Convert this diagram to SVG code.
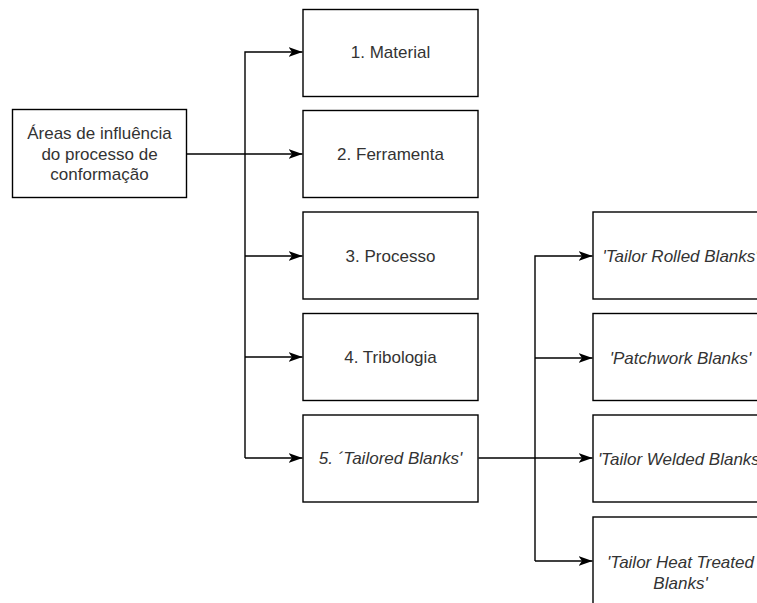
<svg xmlns="http://www.w3.org/2000/svg" width="757" height="603" viewBox="0 0 757 603">
<style>
.box{fill:#fff;stroke:#000;stroke-width:1.4}
.t{font-family:"Liberation Sans",Arial,sans-serif;font-size:17px;fill:#333;text-anchor:middle}
.i{font-style:italic}
.c{fill:none;stroke:#000;stroke-width:1.4}
</style>
<defs>
<marker id="arr" markerUnits="userSpaceOnUse" viewBox="0 0 14 10" refX="14" refY="5" markerWidth="14" markerHeight="10" orient="auto">
<path d="M0,0 L14,5 L0,10 L3.5,5 Z" fill="#000"/>
</marker>
</defs>
<rect width="757" height="603" fill="#fff"/>
<g id="connectors">
<path class="c" d="M186.5,154 H302.5" marker-end="url(#arr)"/>
<path class="c" d="M245,458 V52 H302.5" marker-end="url(#arr)"/>
<path class="c" d="M245,256 H302.5" marker-end="url(#arr)"/>
<path class="c" d="M245,357 H302.5" marker-end="url(#arr)"/>
<path class="c" d="M245,458 H302.5" marker-end="url(#arr)"/>
<path class="c" d="M478.5,458 H592.5" marker-end="url(#arr)"/>
<path class="c" d="M535,561 V256 H592.5" marker-end="url(#arr)"/>
<path class="c" d="M535,358 H592.5" marker-end="url(#arr)"/>
<path class="c" d="M535,561 H592.5" marker-end="url(#arr)"/>
</g>
<g id="n0"><rect class="box" x="12.5" y="109.5" width="174" height="88"/>
<text class="t" x="99.5" y="139">Áreas de influência</text>
<text class="t" x="99.5" y="160">do processo de</text>
<text class="t" x="99.5" y="180">conformação</text></g>
<g id="n1"><rect class="box" x="303" y="9.5" width="175" height="87"/><text class="t" x="390.5" y="58">1. Material</text></g>
<g id="n2"><rect class="box" x="303" y="110.5" width="175" height="87"/><text class="t" x="390.5" y="160">2. Ferramenta</text></g>
<g id="n3"><rect class="box" x="303" y="212" width="175" height="87"/><text class="t" x="390.5" y="262">3. Processo</text></g>
<g id="n4"><rect class="box" x="303" y="313.5" width="175" height="87"/><text class="t" x="390.5" y="363">4. Tribologia</text></g>
<g id="n5"><rect class="box" x="303" y="415" width="175" height="87"/><text class="t i" x="390.5" y="464">5. ´Tailored Blanks'</text></g>
<g id="n6"><rect class="box" x="593" y="212" width="175" height="87"/><text class="t i" x="680.5" y="262">'Tailor Rolled Blanks'</text></g>
<g id="n7"><rect class="box" x="593" y="313.5" width="175" height="87"/><text class="t i" x="680.5" y="364">'Patchwork Blanks'</text></g>
<g id="n8"><rect class="box" x="593" y="415" width="175" height="87"/><text class="t i" x="680.5" y="465">'Tailor Welded Blanks'</text></g>
<g id="n9"><rect class="box" x="593" y="517" width="175" height="100"/>
<text class="t i" x="680.5" y="568">'Tailor Heat Treated</text>
<text class="t i" x="680.5" y="589">Blanks'</text></g>
</svg>
